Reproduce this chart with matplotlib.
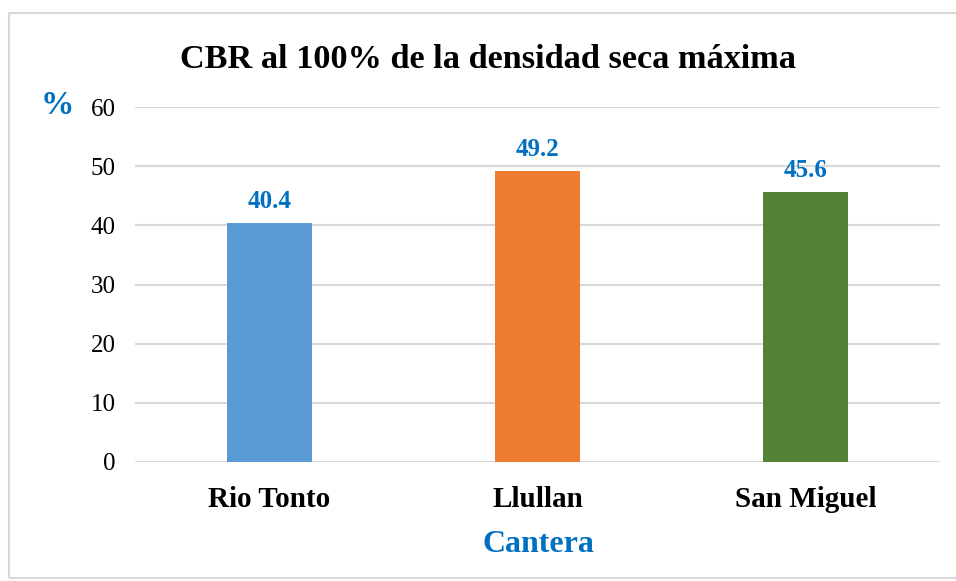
import matplotlib
matplotlib.use("Agg")
import matplotlib.pyplot as plt
from matplotlib.patches import Rectangle

categories = ["Rio Tonto", "Llullan", "San Miguel"]
values = [40.4, 49.2, 45.6]
bar_colors = ["#5B9BD5", "#ED7D31", "#548235"]
yticks = [0, 10, 20, 30, 40, 50, 60]
title = "CBR al 100% de la densidad seca máxima"
xlabel = "Cantera"
ylabel = "%"

plt.rcParams['font.family'] = ['Liberation Serif', 'DejaVu Serif']

fig = plt.figure(figsize=(9.56, 5.81), dpi=100)
fig.patches.append(Rectangle((9/956, 3/581), 1.0, 1 - 16/581, transform=fig.transFigure,
                             fill=False, edgecolor="#D9D9D9", linewidth=1.5))
ax = fig.add_axes([135/956, 1 - 462/581, (940 - 135)/956, (462 - 107)/581])

x = range(len(categories))
ax.bar(x, values, width=0.317, color=bar_colors, zorder=3)
for xi, v in zip(x, values):
    ax.annotate(f"{v}", xy=(xi, v), xytext=(0, 15.5), textcoords="offset points",
                ha="center", va="center", color="#0070C0",
                fontsize=18, fontweight="bold")

ax.set_xlim(-0.5, 2.5)
ax.set_ylim(0, 60)
ax.set_yticks(yticks)
ax.set_yticklabels([str(t) for t in yticks], fontsize=18)
ax.set_xticks(list(x))
ax.set_xticklabels(categories, fontsize=21, fontweight="bold")
ax.tick_params(axis="both", length=0)
ax.tick_params(axis="y", pad=14)
ax.tick_params(axis="x", pad=17)
ax.grid(axis="y", color="#D9D9D9", linewidth=1.5, zorder=0)
for s in ax.spines.values():
    s.set_visible(False)

fig.text(488/956, 1 - 59/581, title, ha="center", va="center", fontsize=24.7, fontweight="bold")
fig.text(538/956, 1 - 545/581, xlabel, ha="center", va="center", fontsize=23,
         fontweight="bold", color="#0070C0")
fig.text(57/956, 1 - 106/581, ylabel, ha="center", va="center", fontsize=24,
         fontweight="bold", color="#0070C0")

fig.savefig("out.png", dpi=100)
